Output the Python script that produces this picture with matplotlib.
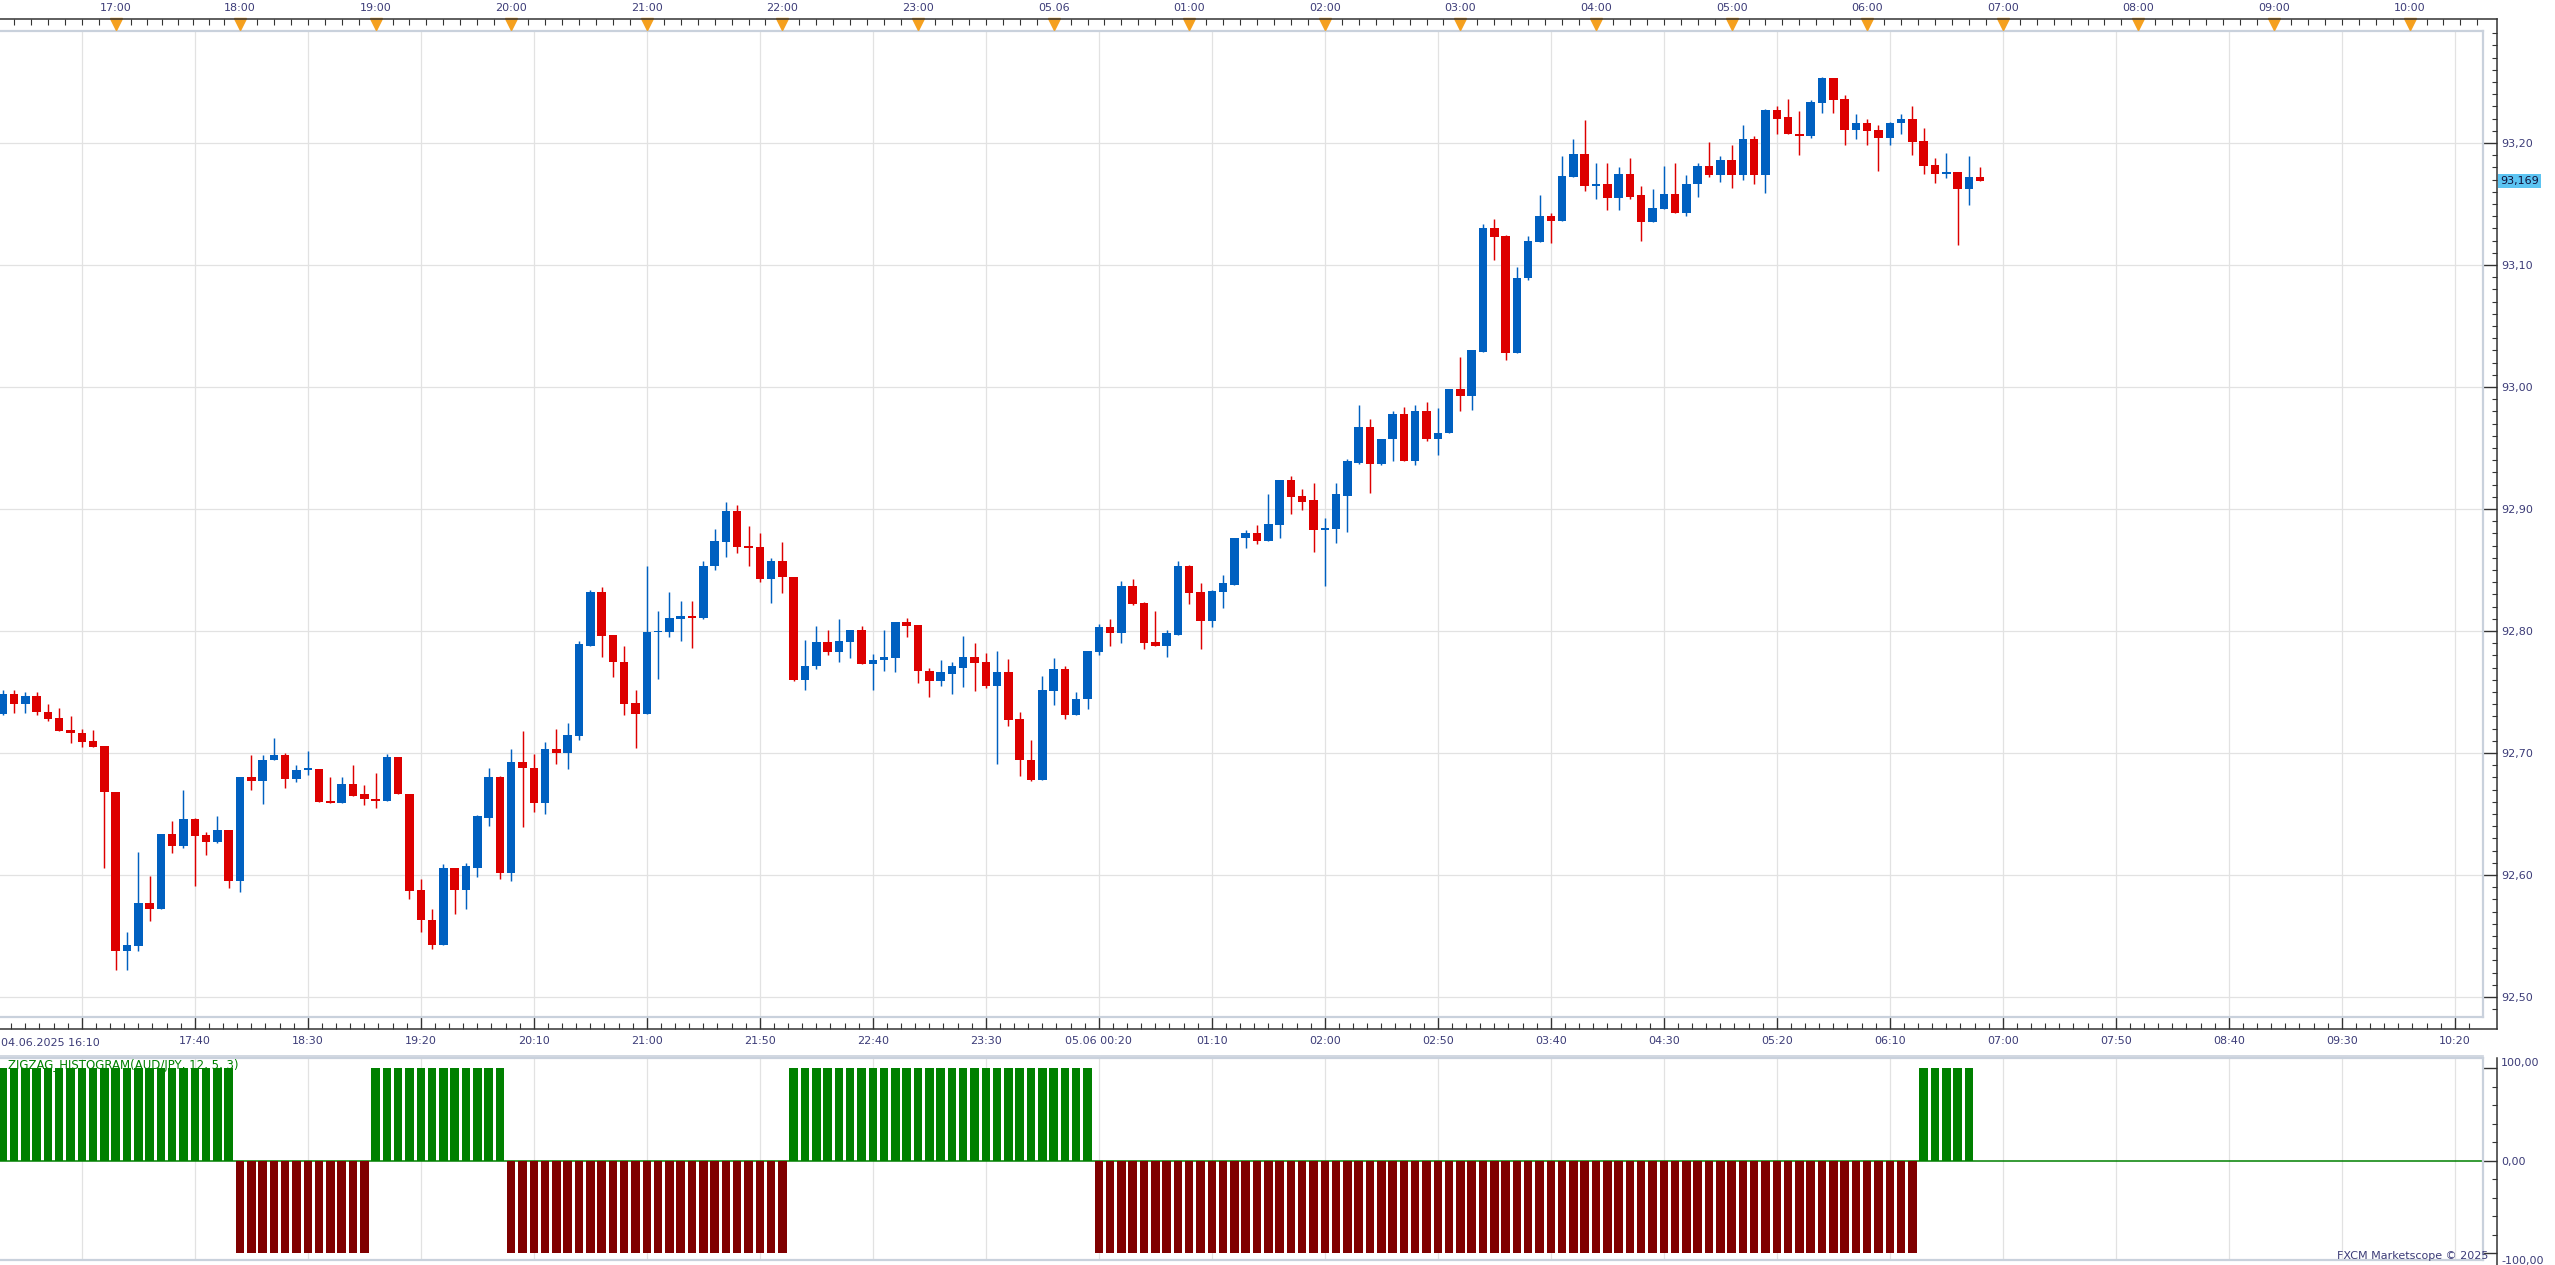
import numpy as np
import matplotlib
matplotlib.use("Agg")
import matplotlib.pyplot as plt
from matplotlib.lines import Line2D
from matplotlib.ticker import FixedLocator
import matplotlib.transforms as mtransforms

# ---------------- data (5-minute AUD/JPY candles) -------------
opens = [92.732, 92.748, 92.740, 92.747, 92.734, 92.729, 92.719, 92.716, 92.710, 92.706,
         92.668, 92.538, 92.542, 92.577, 92.572, 92.634, 92.624, 92.646, 92.633, 92.627,
         92.637, 92.595, 92.680, 92.677, 92.694, 92.698, 92.679, 92.686, 92.687, 92.661,
         92.659, 92.675, 92.666, 92.662, 92.661, 92.697, 92.666, 92.588, 92.563, 92.543,
         92.606, 92.588, 92.606, 92.647, 92.680, 92.602, 92.693, 92.688, 92.659, 92.703,
         92.700, 92.714, 92.788, 92.832, 92.797, 92.775, 92.741, 92.732, 92.799, 92.799,
         92.810, 92.812, 92.811, 92.853, 92.873, 92.898, 92.870, 92.869, 92.843, 92.857,
         92.844, 92.760, 92.771, 92.791, 92.783, 92.791, 92.801, 92.773, 92.776, 92.778,
         92.807, 92.805, 92.767, 92.759, 92.765, 92.770, 92.779, 92.775, 92.755, 92.766,
         92.728, 92.694, 92.678, 92.751, 92.769, 92.731, 92.744, 92.783, 92.803, 92.798,
         92.837, 92.823, 92.791, 92.788, 92.797, 92.853, 92.832, 92.808, 92.832, 92.838,
         92.876, 92.880, 92.874, 92.887, 92.924, 92.911, 92.907, 92.883, 92.884, 92.911,
         92.938, 92.967, 92.937, 92.957, 92.978, 92.939, 92.980, 92.957, 92.962, 92.998,
         92.993, 93.029, 93.130, 93.124, 93.028, 93.089, 93.119, 93.140, 93.136, 93.172,
         93.191, 93.165, 93.166, 93.155, 93.175, 93.157, 93.135, 93.146, 93.158, 93.143,
         93.166, 93.181, 93.174, 93.186, 93.174, 93.203, 93.174, 93.227, 93.221, 93.207,
         93.206, 93.233, 93.253, 93.236, 93.211, 93.216, 93.211, 93.204, 93.216, 93.220,
         93.202, 93.182, 93.175, 93.176, 93.162, 93.172]
highs = [92.752, 92.752, 92.750, 92.750, 92.740, 92.737, 92.730, 92.720, 92.719, 92.706,
         92.668, 92.553, 92.619, 92.599, 92.634, 92.644, 92.670, 92.647, 92.635, 92.648,
         92.637, 92.680, 92.698, 92.698, 92.712, 92.700, 92.690, 92.702, 92.687, 92.680,
         92.680, 92.690, 92.674, 92.684, 92.699, 92.697, 92.666, 92.597, 92.572, 92.609,
         92.606, 92.610, 92.649, 92.688, 92.681, 92.703, 92.718, 92.699, 92.709, 92.720,
         92.725, 92.792, 92.834, 92.836, 92.797, 92.788, 92.752, 92.853, 92.816, 92.832,
         92.825, 92.825, 92.857, 92.884, 92.906, 92.903, 92.886, 92.880, 92.860, 92.873,
         92.844, 92.793, 92.804, 92.801, 92.810, 92.801, 92.804, 92.781, 92.801, 92.807,
         92.811, 92.805, 92.770, 92.776, 92.775, 92.796, 92.790, 92.782, 92.784, 92.777,
         92.734, 92.711, 92.763, 92.778, 92.771, 92.750, 92.784, 92.806, 92.810, 92.841,
         92.843, 92.824, 92.816, 92.801, 92.857, 92.854, 92.839, 92.834, 92.846, 92.876,
         92.883, 92.887, 92.912, 92.924, 92.927, 92.916, 92.921, 92.893, 92.921, 92.941,
         92.985, 92.974, 92.957, 92.980, 92.984, 92.985, 92.988, 92.983, 92.998, 93.025,
         93.030, 93.134, 93.138, 93.125, 93.098, 93.124, 93.157, 93.143, 93.189, 93.203,
         93.219, 93.184, 93.184, 93.180, 93.188, 93.165, 93.162, 93.181, 93.184, 93.174,
         93.184, 93.201, 93.189, 93.198, 93.215, 93.206, 93.228, 93.230, 93.236, 93.226,
         93.235, 93.254, 93.253, 93.239, 93.224, 93.220, 93.215, 93.217, 93.224, 93.230,
         93.212, 93.188, 93.192, 93.176, 93.189, 93.180]
lows = [92.731, 92.733, 92.733, 92.731, 92.726, 92.718, 92.708, 92.705, 92.705, 92.606,
        92.522, 92.522, 92.538, 92.562, 92.572, 92.618, 92.622, 92.591, 92.616, 92.626,
        92.589, 92.586, 92.670, 92.658, 92.694, 92.671, 92.676, 92.682, 92.660, 92.659,
        92.659, 92.665, 92.657, 92.655, 92.661, 92.666, 92.580, 92.553, 92.539, 92.543,
        92.568, 92.572, 92.598, 92.640, 92.597, 92.595, 92.639, 92.652, 92.650, 92.691,
        92.687, 92.711, 92.788, 92.779, 92.762, 92.731, 92.704, 92.732, 92.761, 92.795,
        92.792, 92.786, 92.810, 92.850, 92.861, 92.864, 92.853, 92.840, 92.823, 92.831,
        92.759, 92.752, 92.769, 92.780, 92.775, 92.778, 92.773, 92.752, 92.767, 92.766,
        92.795, 92.757, 92.746, 92.755, 92.748, 92.754, 92.751, 92.753, 92.691, 92.722,
        92.681, 92.677, 92.678, 92.739, 92.728, 92.731, 92.736, 92.780, 92.788, 92.790,
        92.821, 92.785, 92.788, 92.779, 92.797, 92.822, 92.785, 92.803, 92.819, 92.838,
        92.868, 92.871, 92.874, 92.876, 92.896, 92.899, 92.865, 92.837, 92.872, 92.881,
        92.937, 92.913, 92.936, 92.939, 92.939, 92.936, 92.956, 92.944, 92.962, 92.980,
        92.981, 93.029, 93.104, 93.022, 93.028, 93.088, 93.119, 93.118, 93.136, 93.172,
        93.161, 93.154, 93.145, 93.145, 93.154, 93.120, 93.135, 93.146, 93.143, 93.140,
        93.156, 93.172, 93.168, 93.163, 93.170, 93.166, 93.159, 93.207, 93.207, 93.190,
        93.204, 93.225, 93.225, 93.198, 93.203, 93.198, 93.177, 93.198, 93.207, 93.190,
        93.175, 93.167, 93.171, 93.116, 93.149, 93.169]
closes = [92.748, 92.740, 92.747, 92.734, 92.728, 92.718, 92.716, 92.709, 92.705, 92.668,
          92.538, 92.543, 92.577, 92.572, 92.634, 92.624, 92.646, 92.632, 92.627, 92.637,
          92.595, 92.680, 92.677, 92.694, 92.698, 92.679, 92.686, 92.687, 92.660, 92.659,
          92.675, 92.665, 92.662, 92.661, 92.697, 92.666, 92.587, 92.563, 92.543, 92.606,
          92.588, 92.607, 92.648, 92.680, 92.602, 92.693, 92.688, 92.659, 92.703, 92.700,
          92.715, 92.789, 92.832, 92.796, 92.775, 92.740, 92.732, 92.799, 92.800, 92.811,
          92.812, 92.811, 92.853, 92.874, 92.898, 92.869, 92.868, 92.843, 92.857, 92.844,
          92.760, 92.771, 92.791, 92.783, 92.792, 92.801, 92.773, 92.776, 92.779, 92.807,
          92.804, 92.767, 92.759, 92.766, 92.771, 92.779, 92.774, 92.755, 92.766, 92.727,
          92.694, 92.678, 92.752, 92.769, 92.731, 92.744, 92.784, 92.803, 92.798, 92.837,
          92.822, 92.790, 92.788, 92.798, 92.853, 92.831, 92.808, 92.833, 92.839, 92.876,
          92.880, 92.874, 92.888, 92.924, 92.910, 92.906, 92.883, 92.884, 92.912, 92.939,
          92.967, 92.937, 92.957, 92.978, 92.939, 92.980, 92.957, 92.962, 92.998, 92.993,
          93.030, 93.130, 93.123, 93.028, 93.089, 93.120, 93.140, 93.136, 93.173, 93.191,
          93.165, 93.166, 93.155, 93.175, 93.156, 93.135, 93.147, 93.158, 93.143, 93.166,
          93.181, 93.174, 93.186, 93.174, 93.203, 93.174, 93.227, 93.220, 93.207, 93.206,
          93.234, 93.253, 93.235, 93.211, 93.216, 93.210, 93.204, 93.216, 93.220, 93.201,
          93.181, 93.175, 93.176, 93.162, 93.172, 93.169]

# zigzag histogram: runs of (value, number of bars)
zigzag_runs = [(100, 21), (-100, 12), (100, 12), (-100, 25), (100, 27), (-100, 73), (100, 5), (0, 1)]
last_price = 93.169

price_ticks = [92.50, 92.60, 92.70, 92.80, 92.90, 93.00, 93.10, 93.20]
bottom_tick_pos = [7, 17, 27, 37, 47, 57, 67, 77, 87, 97, 107, 117, 127, 137, 147,
                   157, 167, 177, 187, 197, 207, 217]
bottom_tick_labels = ['', '17:40', '18:30', '19:20', '20:10', '21:00', '21:50', '22:40',
                      '23:30', '05.06 00:20', '01:10', '02:00', '02:50', '03:40', '04:30',
                      '05:20', '06:10', '07:00', '07:50', '08:40', '09:30', '10:20']
first_label = '04.06.2025 16:10'
top_tick_pos = [10, 21, 33, 45, 57, 69, 81, 93, 105, 117, 129, 141, 153, 165, 177, 189, 201, 213]
top_tick_labels = ['17:00', '18:00', '19:00', '20:00', '21:00', '22:00', '23:00', '05.06',
                   '01:00', '02:00', '03:00', '04:00', '05:00', '06:00', '07:00', '08:00',
                   '09:00', '10:00']
ind_ticks = [100, 0, -100]
ind_tick_labels = ['100,00', '0,00', '-100,00']

# ---------------- layout (pixels) ----------------
W, H = 2555, 1265
X0, DX = 2.7, 11.3           # first candle centre, candle spacing (px)
PANE_R = 2483
AX_X = 2497
P_TOP, P_BOT = 31, 1017
I_TOP, I_BOT = 1058, 1260

def rect(x0, y0, x1, y1):
    return [x0 / W, 1 - y1 / H, (x1 - x0) / W, (y1 - y0) / H]

def px2price(y):
    return 92.70 + (753 - y) / 1220.0

def px2ind(y):
    return (1160.5 - y) / 0.925

BLUE = '#0060c0'
RED = '#dd0000'
GREEN = '#008000'
DRED = '#800000'
GRID = '#e2e2e2'
BORDER = '#c9d1dc'
AXC = '#333333'
TXT = '#3c3c78'
PT = 0.72  # points per pixel at 100 dpi

fig = plt.figure(figsize=(W / 100, H / 100), dpi=100)
fig.patch.set_facecolor('white')

xlim = (-X0 / DX, (PANE_R - X0) / DX)
x = np.arange(len(opens))
o = np.array(opens); h = np.array(highs); l = np.array(lows); c = np.array(closes)
up = c >= o
cols = np.where(up, BLUE, RED)

# ---------------- price pane ----------------
ax = fig.add_axes(rect(0, P_TOP, PANE_R, P_BOT))
ax.set_xlim(*xlim)
ax.set_ylim(px2price(P_BOT), px2price(P_TOP))

ax.vlines(x, l, h, colors=cols, linewidth=1.05, zorder=3)
body_bottom = np.minimum(o, c)
body_h = np.maximum(np.abs(c - o), 0.0013)
ax.bar(x, body_h, bottom=body_bottom, width=0.75, color=cols, edgecolor='none', zorder=4)

ax.yaxis.tick_right()
ax.set_yticks(price_ticks)
ax.set_yticklabels([f'{v:.2f}'.replace('.', ',') for v in price_ticks])
ax.yaxis.set_minor_locator(FixedLocator(np.round(np.arange(92.49, 93.30, 0.01), 3)))
ax.spines['right'].set_position(('outward', (AX_X - PANE_R) * PT))
ax.spines['bottom'].set_position(('outward', (1029 - P_BOT) * PT))
for s in ['right', 'bottom', 'left']:
    ax.spines[s].set_visible(False)
ax.spines['top'].set_color(BORDER)
ax.spines['top'].set_linewidth(1.6)
ax.tick_params(axis='y', which='major', direction='in', length=14 * PT, width=1.0,
               color=AXC, labelsize=8, labelcolor=TXT, pad=3)
ax.tick_params(axis='y', which='minor', direction='in', length=5 * PT, width=0.8, color=AXC)

ax.set_xticks(bottom_tick_pos)
ax.set_xticklabels(bottom_tick_labels)
minor_x = np.arange(7 - 1.25 * 5, 222, 1.25)
ax.xaxis.set_minor_locator(FixedLocator(minor_x))
ax.tick_params(axis='x', which='major', direction='in', length=12 * PT, width=1.0,
               color=AXC, labelsize=8, labelcolor=TXT, pad=5)
ax.tick_params(axis='x', which='minor', direction='in', length=6 * PT, width=0.8, color=AXC)
ax.grid(True, which='major', color=GRID, linewidth=0.9, zorder=0)
ax.set_axisbelow(True)
# pane border (right, bottom)
ax.plot([1, 1], [0, 1], transform=ax.transAxes, color=BORDER, lw=1.6, clip_on=False, zorder=5)
ax.plot([0, 1], [0, 0], transform=ax.transAxes, color=BORDER, lw=1.6, clip_on=False, zorder=5)

# top time axis
axt = ax.twiny()
axt.set_xlim(*xlim)
axt.spines['top'].set_position(('outward', (P_TOP - 19) * PT))
for s in ['top', 'right', 'bottom', 'left']:
    axt.spines[s].set_visible(False)
axt.set_xticks(top_tick_pos)
axt.set_xticklabels(top_tick_labels)
top_minor = list(np.arange(top_tick_pos[0] - 1.5, -0.3, -1.5))
for a, b in zip(top_tick_pos[:-1], top_tick_pos[1:]):
    top_minor += list(np.linspace(a, b, 9)[1:-1])
top_minor += list(np.arange(top_tick_pos[-1] + 1.5, xlim[1], 1.5))
axt.xaxis.set_minor_locator(FixedLocator(top_minor))
axt.tick_params(axis='x', which='major', direction='in', length=0, labelsize=8,
                labelcolor=TXT, pad=4)
axt.tick_params(axis='x', which='minor', direction='in', length=6 * PT, width=0.8, color=AXC)
tr_top = mtransforms.blended_transform_factory(ax.transData, fig.transFigure)
ax.plot(top_tick_pos, [1 - 23.5 / H] * len(top_tick_pos), linestyle='none', marker='v',
        markersize=8.5, color='#f5a01e', transform=tr_top, clip_on=False, zorder=10)

# first bottom label
fig.text(1 / W, 1 - 1043 / H, first_label, ha='left', va='center', fontsize=8, color=TXT)

# last price box
tr_price = mtransforms.blended_transform_factory(fig.transFigure, ax.transData)
fig.text(2500 / W, last_price, f'{last_price:.3f}'.replace('.', ','), transform=tr_price,
         ha='left', va='center', fontsize=8, color='#10103a',
         bbox=dict(boxstyle='square,pad=0.18', fc='#5cc4f2', ec='none'))

# ---------------- indicator pane ----------------
ax2 = fig.add_axes(rect(0, I_TOP, PANE_R, I_BOT))
ax2.set_xlim(*xlim)
ax2.set_ylim(px2ind(I_BOT), px2ind(I_TOP))
zz = []
for v, n in zigzag_runs:
    zz += [v] * n
zz = np.array(zz, dtype=float)
zcols = np.where(zz > 0, GREEN, DRED)
ax2.axhline(0, color=GREEN, lw=1.1, zorder=2)
ax2.bar(x, zz, width=0.75, color=zcols, edgecolor='none', zorder=3)
ax2.set_xticks(bottom_tick_pos)
ax2.tick_params(axis='x', which='both', length=0, labelbottom=False)
ax2.grid(True, axis='x', which='major', color=GRID, linewidth=0.9, zorder=0)
ax2.set_axisbelow(True)
ax2.yaxis.tick_right()
ax2.set_yticks(ind_ticks)
ax2.set_yticklabels([])
ax2.yaxis.set_minor_locator(FixedLocator(np.arange(-100, 101, 20)))
ax2.spines['right'].set_position(('outward', (AX_X - PANE_R) * PT))
ax2.spines['right'].set_visible(False)
ax2.spines['left'].set_visible(False)
for s in ['top', 'bottom']:
    ax2.spines[s].set_color(BORDER)
    ax2.spines[s].set_linewidth(1.6)
ax2.tick_params(axis='y', which='major', direction='in', length=14 * PT, width=1.0, color=AXC)
ax2.tick_params(axis='y', which='minor', direction='in', length=5 * PT, width=0.8, color=AXC)
ax2.plot([1, 1], [0, 1], transform=ax2.transAxes, color=BORDER, lw=1.6, clip_on=False, zorder=5)
ax2.text(8 / PANE_R, 1 - (1065 - I_TOP) / (I_BOT - I_TOP),
         'ZIGZAG_HISTOGRAM(AUD/JPY, 12, 5, 3)', transform=ax2.transAxes,
         ha='left', va='center', fontsize=8.5, color=GREEN, zorder=6)
# indicator axis labels (the platform nudges the outer ones to stay inside the pane)
for lab, ypx in zip(ind_tick_labels, [1063, 1162.5, 1261]):
    fig.text(2501 / W, 1 - ypx / H, lab, ha='left', va='center', fontsize=8, color=TXT)

# separator line above indicator pane
fig.add_artist(Line2D([0, PANE_R / W], [1 - 1055.5 / H] * 2, color=BORDER, lw=1.2))

# ---------------- axis lines ----------------
def fline(x0, y0, x1, y1, **kw):
    fig.add_artist(Line2D([x0 / W, x1 / W], [1 - y0 / H, 1 - y1 / H], **kw))

fline(0, 19, AX_X, 19, color=AXC, lw=1.1)
fline(AX_X, 19, AX_X, 1029, color=AXC, lw=1.1)
fline(0, 1029, AX_X, 1029, color=AXC, lw=1.1)
fline(AX_X, 1058, AX_X, 1265, color=AXC, lw=1.1)

fig.text(2488 / W, 1 - 1256 / H, 'FXCM Marketscope \u00a9 2025', ha='right', va='center',
         fontsize=8, color=TXT)

fig.savefig('out.png', dpi=100, facecolor='white')
